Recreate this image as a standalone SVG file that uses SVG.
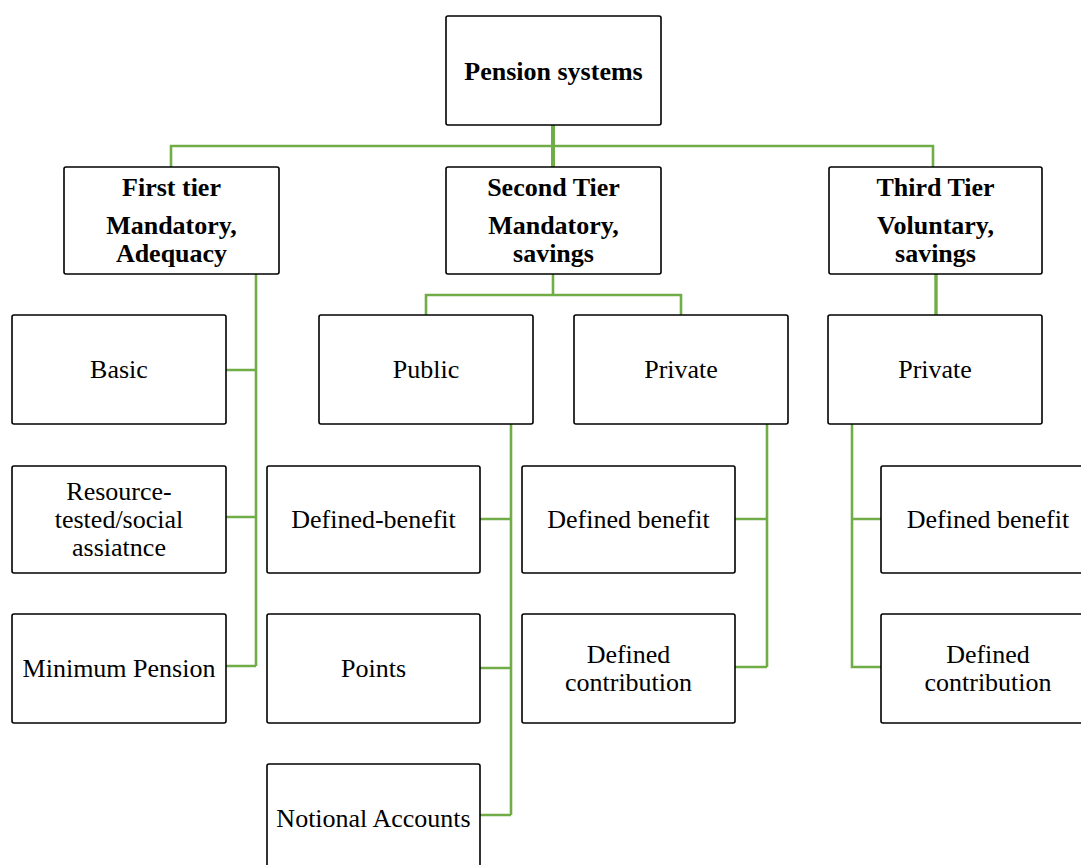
<svg xmlns="http://www.w3.org/2000/svg" width="1081" height="865" viewBox="0 0 1081 865">
<style>
.box{fill:#fff;stroke:#000;stroke-width:1.6}
.t{font-size:26px;fill:#000;text-anchor:middle}
.b{font-weight:bold}
.c{fill:none;stroke:#70AD47;stroke-width:2.6}
.ct{fill:none;stroke:#70AD47;stroke-width:4}
</style>
<rect width="1081" height="865" fill="#fff"/>
<g id="connectors">
<path class="ct" d="M553 125V167"/>
<path class="c" d="M171 167V146H933V167"/>
<path class="c" d="M553 274V295M426 315V295H681V315"/>
<path class="ct" d="M936 274V315" style="stroke-width:3.4"/>
<path class="c" d="M256 274V666M226 370H256M226 517H256M226 666H256"/>
<path class="c" d="M511 424V815M480 519H511M480 668H511M480 815H511"/>
<path class="c" d="M767 424V667M735 519H767M735 667H767"/>
<path class="c" d="M852 424V667H881M852 519H881"/>
</g>
<g font-family="Liberation Serif, serif">
<g id="root"><rect class="box" x="446" y="16" width="215" height="109" rx="2"/><text class="t b" x="553.5" y="80">Pension systems</text></g>
<g id="tier1"><rect class="box" x="64" y="167" width="215" height="107" rx="2"/><text class="t b" x="171.5" y="196">First tier</text><text class="t b" x="171.5" y="234">Mandatory,</text><text class="t b" x="171.5" y="262">Adequacy</text></g>
<g id="tier2"><rect class="box" x="446" y="167" width="215" height="107" rx="2"/><text class="t b" x="553.5" y="196">Second Tier</text><text class="t b" x="553.5" y="234">Mandatory,</text><text class="t b" x="553.5" y="262">savings</text></g>
<g id="tier3"><rect class="box" x="829" y="167" width="213" height="107" rx="2"/><text class="t b" x="935.5" y="196">Third Tier</text><text class="t b" x="935.5" y="234">Voluntary,</text><text class="t b" x="935.5" y="262">savings</text></g>
<g id="basic"><rect class="box" x="12" y="315" width="214" height="109" rx="2"/><text class="t" x="119" y="378">Basic</text></g>
<g id="resource"><rect class="box" x="12" y="466" width="214" height="107" rx="2"/><text class="t" x="119" y="500">Resource-</text><text class="t" x="119" y="528">tested/social</text><text class="t" x="119" y="556">assiatnce</text></g>
<g id="minimum"><rect class="box" x="12" y="614" width="214" height="109" rx="2"/><text class="t" x="119" y="677">Minimum Pension</text></g>
<g id="public"><rect class="box" x="319" y="315" width="214" height="109" rx="2"/><text class="t" x="426" y="378">Public</text></g>
<g id="private2"><rect class="box" x="574" y="315" width="214" height="109" rx="2"/><text class="t" x="681" y="378">Private</text></g>
<g id="private3"><rect class="box" x="828" y="315" width="214" height="109" rx="2"/><text class="t" x="935" y="378">Private</text></g>
<g id="pub-db"><rect class="box" x="267" y="466" width="213" height="107" rx="2"/><text class="t" x="373.5" y="528">Defined-benefit</text></g>
<g id="pub-points"><rect class="box" x="267" y="614" width="213" height="109" rx="2"/><text class="t" x="373.5" y="677">Points</text></g>
<g id="pub-notional"><rect class="box" x="267" y="764" width="213" height="109" rx="2"/><text class="t" x="373.5" y="827">Notional Accounts</text></g>
<g id="priv2-db"><rect class="box" x="522" y="466" width="213" height="107" rx="2"/><text class="t" x="628.5" y="528">Defined benefit</text></g>
<g id="priv2-dc"><rect class="box" x="522" y="614" width="213" height="109" rx="2"/><text class="t" x="628.5" y="663">Defined</text><text class="t" x="628.5" y="691">contribution</text></g>
<g id="priv3-db"><rect class="box" x="881" y="466" width="214" height="107" rx="2"/><text class="t" x="988" y="528">Defined benefit</text></g>
<g id="priv3-dc"><rect class="box" x="881" y="614" width="214" height="109" rx="2"/><text class="t" x="988" y="663">Defined</text><text class="t" x="988" y="691">contribution</text></g>
</g>
</svg>
